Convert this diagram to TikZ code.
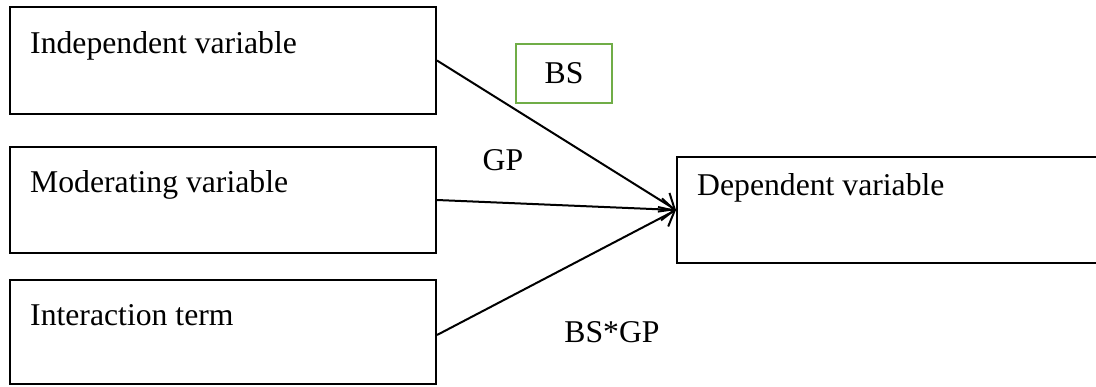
\documentclass[tikz,border=0pt]{standalone}
\usepackage{fontspec}
\setmainfont{Liberation Serif}
\usetikzlibrary{arrows.meta,calc}
\tikzset{
  varbox/.style={draw=black, line width=2pt, rectangle, inner sep=0pt, minimum width=426.5pt},
  coefbox/.style={draw=boxgreen, line width=2pt, rectangle, inner sep=0pt,
                  minimum width=96pt, minimum height=59pt},
  boxlabel/.style={anchor=base west, inner sep=0pt, font=\fontsize{31.7}{38}\selectfont},
  termlabel/.style={inner sep=0pt, font=\fontsize{31.7}{38}\selectfont},
  path/.style={draw=black, line width=2pt, -{Straight Barb[length=13pt, width=22pt, line width=2pt]}}
}
\definecolor{boxgreen}{RGB}{112,173,71}
\begin{document}
\begin{tikzpicture}[x=1pt, y=-1pt]
  \useasboundingbox (0,0) rectangle (1096,386);

  % predictor boxes on the left
  \node[varbox, minimum height=107pt] (iv) at (222.75,60.5) {};
  \node[varbox, minimum height=106pt] (mv) at (222.75,200) {};
  \node[varbox, minimum height=104pt] (it) at (222.75,332) {};
  % outcome box, running past the right edge
  \node[draw=black, line width=2pt, rectangle, inner sep=0pt,
        minimum width=433pt, minimum height=106pt] (dv) at (893.5,210) {};

  % box captions
  \node[boxlabel] (ivt) at ($(iv.north west)+(21.5,47)$) {Independent variable};
  \node[boxlabel] (mvt) at ($(mv.north west)+(21.5,46)$) {Moderating variable};
  \node[boxlabel] (itt) at ($(it.north west)+(21.5,46)$) {Interaction term};
  \node[boxlabel] (dvt) at ($(dv.north west)+(21,39)$) {Dependent variable};

  % coefficient labels
  \node[coefbox] (bsbox) at (564,73.5) {};
  \node[termlabel] (bs) at (bsbox.center) {BS};
  \node[termlabel] (gp) at (503,160) {GP};
  \node[termlabel] (bsgp) at (612,332) {BS*GP};

  % paths into the outcome
  \draw[path] (iv.east) -- (dv.west);
  \draw[path] (mv.east) -- (dv.west);
  \draw[path] ($(it.east)+(0,3)$) -- (dv.west);
\end{tikzpicture}
\end{document}
